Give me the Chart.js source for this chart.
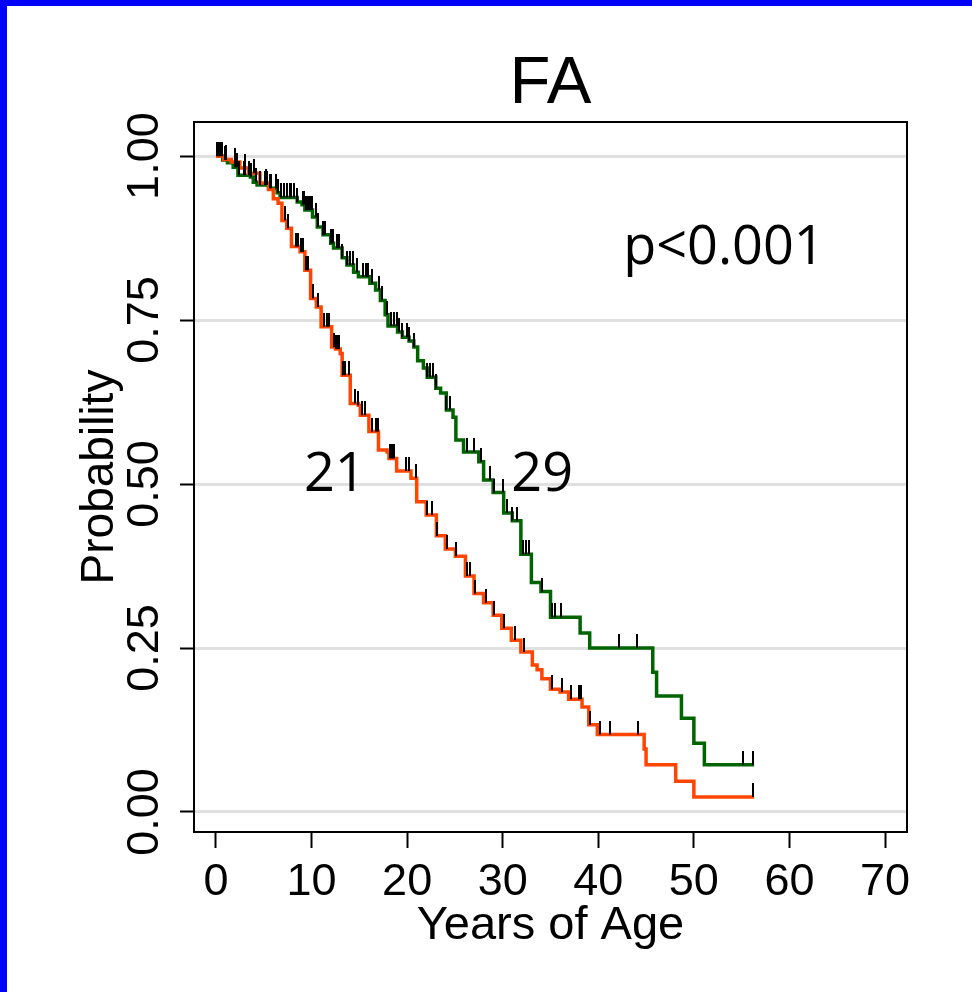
<!DOCTYPE html>
<html><head><meta charset="utf-8">
<script src="https://cdn.jsdelivr.net/npm/chart.js@4.4.1/dist/chart.umd.min.js"></script>
<style>html,body{margin:0;padding:0;background:#fff;overflow:hidden}canvas{display:block}</style>
</head><body>
<canvas id="c" width="972" height="992"></canvas>
<script>
// ---- text ----
const chartTitle = 'FA';
const xAxisTitle = 'Years of Age';
const yAxisTitle = 'Probability';
const pValueText = 'p<0.001';
const medianOrangeText = '21';
const medianGreenText = '29';

// ---- ticks ----
const xTickValues = [0, 10, 20, 30, 40, 50, 60, 70];
const yTickValues = [0, 0.25, 0.5, 0.75, 1];

// ---- green group (survival step function) ----
const greenTimes = [0, 0.7, 1.2, 1.8, 2.3, 3.6, 3.9, 4.3, 5.5, 6.4, 6.7, 8.5, 9.0, 9.3, 10.1, 10.6, 11.2, 12.0, 12.3, 13.2, 13.7, 14.4, 14.9, 16.1, 16.7, 17.2, 17.7, 18.0, 19.0, 19.5, 20.2, 20.7, 21.1, 21.7, 22.1, 23.0, 23.5, 24.1, 24.8, 25.1, 25.9, 27.5, 28.0, 29.0, 30.1, 31.0, 31.9, 33.0, 34.0, 35.0, 38.1, 39.1, 45.7, 46.1, 48.7, 50.0, 51.1, 56.3];
const greenSurv = [1.0, 0.994, 0.99, 0.983, 0.971, 0.968, 0.96, 0.956, 0.951, 0.944, 0.937, 0.93, 0.926, 0.918, 0.907, 0.892, 0.88, 0.867, 0.86, 0.845, 0.834, 0.823, 0.816, 0.806, 0.796, 0.78, 0.758, 0.741, 0.732, 0.724, 0.718, 0.709, 0.688, 0.677, 0.663, 0.646, 0.639, 0.613, 0.602, 0.567, 0.549, 0.534, 0.506, 0.487, 0.456, 0.444, 0.393, 0.35, 0.336, 0.297, 0.273, 0.25, 0.213, 0.177, 0.143, 0.105, 0.072, 0.072];
const greenCensored = [0.1, 0.25, 0.4, 0.6, 0.9, 1.1, 2.0, 2.2, 2.4, 2.9, 3.0, 3.5, 3.7, 4.2, 4.6, 5.1, 5.3, 5.6, 5.8, 6.3, 6.5, 6.8, 7.1, 7.4, 7.7, 7.9, 8.2, 8.5, 9.1, 9.2, 9.4, 9.5, 9.7, 9.85, 10.0, 10.5, 10.7, 11.2, 11.4, 12.0, 12.2, 12.7, 12.9, 13.2, 13.7, 14.0, 14.3, 14.8, 15.4, 15.7, 15.9, 16.3, 17.1, 17.4, 17.9, 18.3, 18.6, 18.9, 19.1, 19.5, 20.0, 20.2, 20.7, 22.1, 22.4, 22.7, 23.0, 24.1, 24.5, 26.3, 27.0, 27.7, 28.7, 29.1, 30.0, 30.5, 31.0, 31.5, 32.1, 32.4, 32.7, 34.1, 35.2, 35.5, 36.1, 42.2, 44.1, 55.1, 56.2];

// ---- orange group ----
const orangeTimes = [0, 0.8, 1.6, 2.5, 3.4, 4.6, 5.5, 6.0, 6.5, 6.9, 7.4, 7.9, 8.8, 9.3, 9.9, 10.5, 11.0, 12.1, 12.5, 13.0, 13.2, 14.05, 14.9, 15.1, 16.0, 17.0, 17.9, 18.1, 18.9, 20.4, 21.0, 22.0, 23.06, 24.0, 25.05, 26.1, 27.0, 28.0, 29.0, 29.9, 30.9, 31.9, 33.1, 33.6, 34.1, 35.0, 36.0, 36.9, 38.3, 39.0, 39.9, 44.8, 45.0, 48.1, 50.0, 56.3];
const orangeSurv = [1.0, 0.995, 0.991, 0.982, 0.974, 0.959, 0.949, 0.935, 0.928, 0.902, 0.89, 0.862, 0.854, 0.826, 0.783, 0.770, 0.740, 0.709, 0.706, 0.699, 0.666, 0.623, 0.620, 0.605, 0.58, 0.552, 0.549, 0.539, 0.520, 0.509, 0.473, 0.453, 0.421, 0.401, 0.39, 0.36, 0.333, 0.319, 0.30, 0.28, 0.262, 0.244, 0.224, 0.217, 0.203, 0.187, 0.183, 0.172, 0.160, 0.133, 0.118, 0.096, 0.072, 0.047, 0.023, 0.023];
const orangeCensored = [0.3, 0.6, 1.0, 2.0, 3.0, 4.0, 5.2, 7.2, 7.5, 8.4, 8.6, 8.9, 9.1, 9.4, 9.6, 10.2, 10.7, 11.3, 11.6, 11.8, 12.3, 12.6, 12.7, 12.9, 13.3, 13.5, 13.9, 14.5, 14.9, 15.3, 15.6, 16.3, 16.7, 16.9, 18.2, 18.4, 18.6, 19.9, 20.2, 20.9, 22.1, 22.6, 23.1, 24.2, 25.1, 26.3, 26.6, 27.1, 28.2, 29.1, 30.1, 31.3, 32.2, 35.2, 36.2, 37.1, 38.0, 38.2, 39.1, 40.2, 41.2, 44.2, 56.2];

const GREEN = '#006400';
const ORANGE = '#FF4500';
const FONT = '"Liberation Sans", Arial, sans-serif';

function stepPoints(times, surv) {
  return times.map((t, i) => ({ x: t, y: surv[i] }));
}
function survAt(times, surv, t) {
  let s = surv[0];
  for (let i = 0; i < times.length; i++) { if (times[i] <= t) s = surv[i]; else break; }
  return s;
}
function censorPoints(cens, times, surv) {
  return cens.map(t => ({ x: t, y: survAt(times, surv, t) }));
}

// censor tick: vertical black mark rising from the curve
const tickMark = document.createElement('canvas');
tickMark.width = 2; tickMark.height = 28;
(function () { const g = tickMark.getContext('2d'); g.fillStyle = '#000'; g.fillRect(0, 0, 2, 14); })();

const decor = {
  id: 'decor',
  beforeDraw(chart) {
    const { ctx } = chart;
    ctx.save(); ctx.fillStyle = '#fff'; ctx.fillRect(0, 0, chart.width, chart.height); ctx.restore();
  },
  beforeDatasetsDraw(chart) {
    const { ctx, chartArea: a } = chart;
    ctx.save();
    ctx.strokeStyle = '#000'; ctx.lineWidth = 2;
    ctx.strokeRect(a.left, a.top, a.right - a.left, a.bottom - a.top);
    ctx.restore();
  },
  afterDraw(chart) {
    const { ctx, chartArea: a, scales: { x, y } } = chart;
    ctx.save();
    ctx.fillStyle = '#000';
    ctx.textBaseline = 'alphabetic';
    ctx.textAlign = 'center';
    ctx.font = '67px ' + FONT;
    ctx.fillText(chartTitle, (a.left + a.right) / 2, 103);
    ctx.textAlign = 'left';
    ctx.font = '54px "Open Sans", sans-serif';
    ctx.fillText(pValueText, x.getPixelForValue(42.6), y.getPixelForValue(0.835));
    ctx.fillText(medianOrangeText, x.getPixelForValue(9.2), y.getPixelForValue(0.490));
    ctx.fillText(medianGreenText, x.getPixelForValue(30.9), y.getPixelForValue(0.489));
    // frame border
    ctx.fillStyle = '#0000FF';
    ctx.fillRect(0, 0, chart.width, 6);
    ctx.fillRect(0, 0, 7, chart.height);
    ctx.restore();
  }
};

new Chart(document.getElementById('c'), {
  type: 'line',
  data: {
    datasets: [
      { label: 'orange censored', data: censorPoints(orangeCensored, orangeTimes, orangeSurv), showLine: false, pointStyle: tickMark, pointRadius: 7, order: 0 },
      { label: 'green censored', data: censorPoints(greenCensored, greenTimes, greenSurv), showLine: false, pointStyle: tickMark, pointRadius: 7, order: 0 },
      { label: 'orange', data: stepPoints(orangeTimes, orangeSurv), stepped: true, borderColor: ORANGE, borderWidth: 3.5, pointRadius: 0, fill: false, order: 1 },
      { label: 'green', data: stepPoints(greenTimes, greenSurv), stepped: true, borderColor: GREEN, borderWidth: 3.5, pointRadius: 0, fill: false, order: 2 }
    ]
  },
  options: {
    responsive: false,
    animation: false,
    devicePixelRatio: 1,
    events: [],
    layout: { padding: { top: 122, right: 65, bottom: 0, left: 0 } },
    plugins: { legend: { display: false }, tooltip: { enabled: false }, title: { display: false } },
    scales: {
      x: {
        type: 'linear', min: -2.3, max: 72.3,
        afterBuildTicks: s => { s.ticks = xTickValues.map(v => ({ value: v })); },
        afterFit: s => { s.height = 160; },
        border: { display: false },
        grid: { drawOnChartArea: false, drawTicks: true, tickLength: 16, tickWidth: 2, tickColor: '#000' },
        ticks: { autoSkip: false, maxRotation: 0, minRotation: 0, padding: 12, color: '#000', font: { family: FONT, size: 45, lineHeight: 1 }, callback: v => String(v) },
        title: { display: true, text: xAxisTitle, color: '#000', font: { family: FONT, size: 47, lineHeight: 1 }, padding: { top: 0, bottom: 42 } }
      },
      y: {
        type: 'linear', min: -0.0305, max: 1.052,
        afterBuildTicks: s => { s.ticks = yTickValues.map(v => ({ value: v })); },
        afterFit: s => { s.width = 194; },
        border: { display: false },
        grid: { drawOnChartArea: true, color: '#e0e0e0', lineWidth: 3, drawTicks: true, tickLength: 14, tickWidth: 2, tickColor: '#000' },
        ticks: { autoSkip: false, minRotation: 90, maxRotation: 90, crossAlign: 'center', padding: -9, color: '#000', font: { family: FONT, size: 45, lineHeight: 1 }, callback: v => Number(v).toFixed(2) },
        title: { display: true, text: yAxisTitle, color: '#000', font: { family: FONT, size: 46, lineHeight: 1 }, padding: { top: 77, bottom: 0 } }
      }
    }
  },
  plugins: [decor]
});
</script>
</body></html>
